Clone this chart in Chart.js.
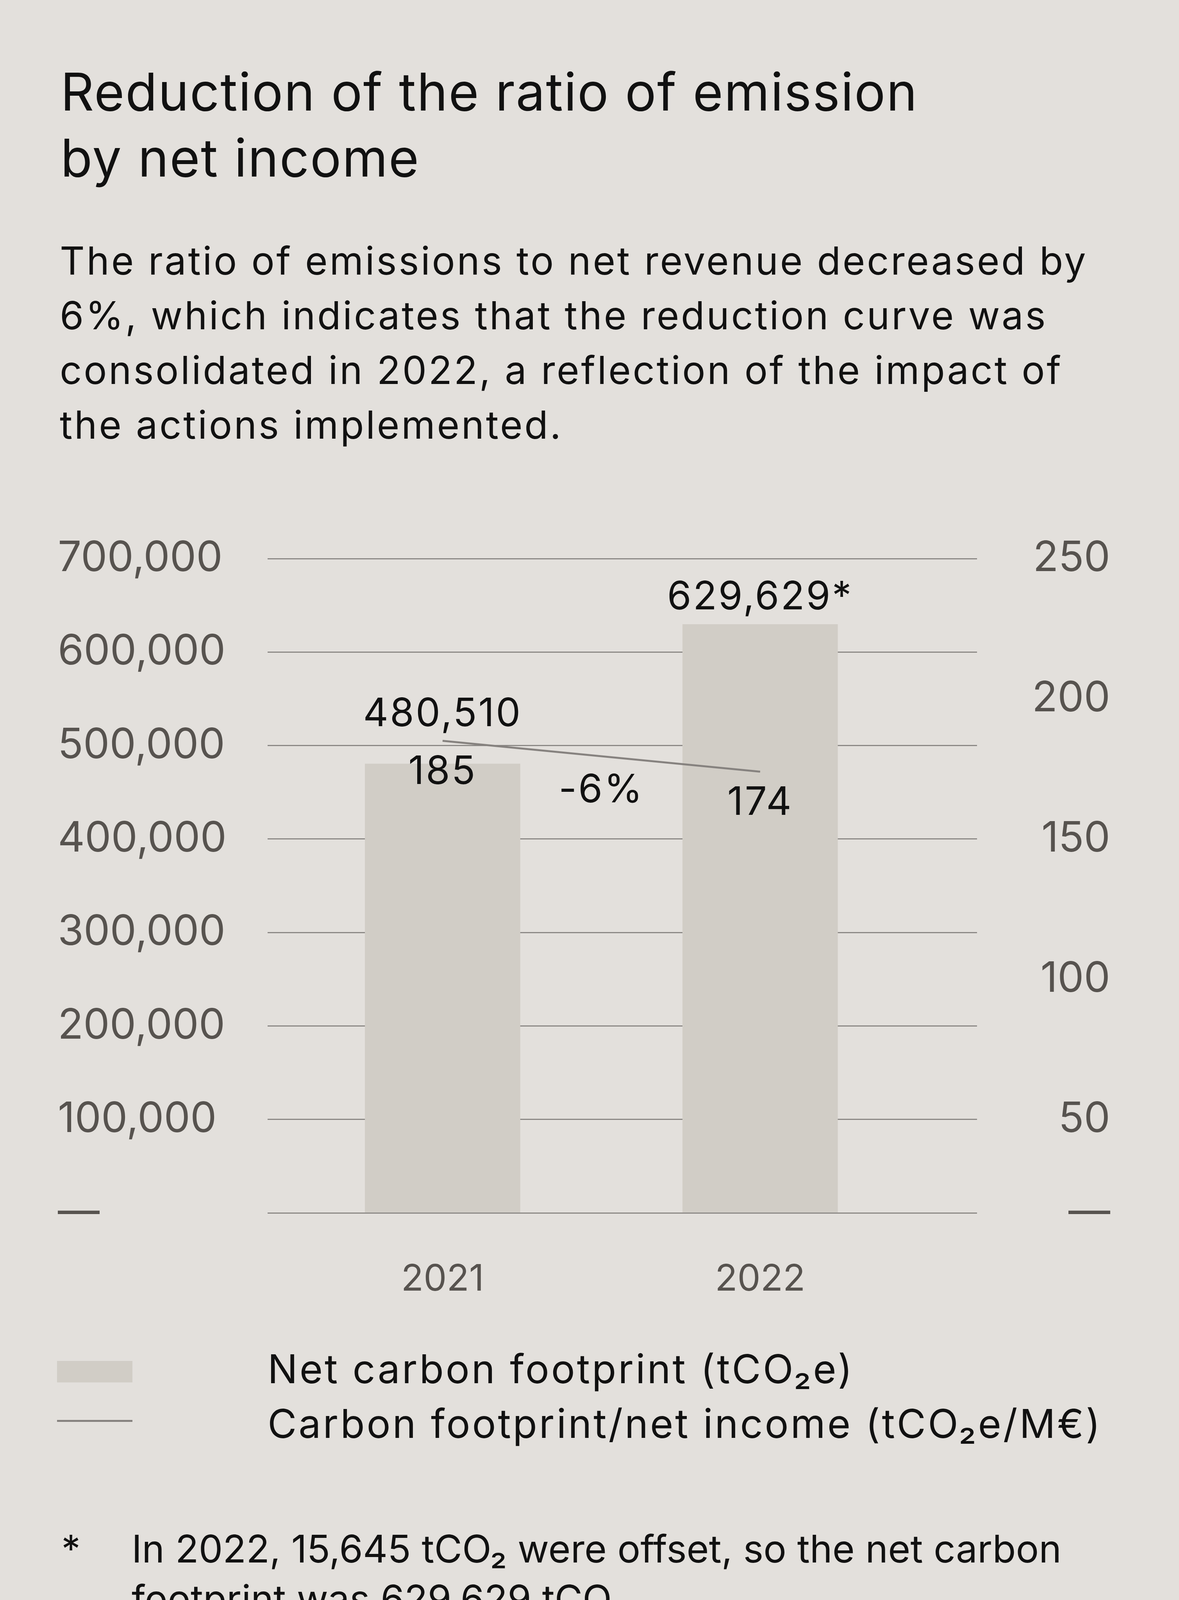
<!DOCTYPE html>
<html>
<head>
<meta charset="utf-8">
<script src="https://cdn.jsdelivr.net/npm/chart.js@4.4.1/dist/chart.umd.min.js"></script>
<style>
  html, body { margin: 0; padding: 0; background: #e3e0dc; }
  body { width: 3018px; height: 6285px; position: relative; overflow: hidden;
         font-family: Inter, "Noto Sans", sans-serif; color: #111; }
  .abs { position: absolute; }
  .title { left: 155px; top: 150px; font-size: 133px; line-height: 169px; letter-spacing: 2.4px; }
  .intro { left: 153px; top: 597px; font-size: 99px; line-height: 140px; letter-spacing: 4.6px; }
  .legend { left: 0; top: 3434px; width: 3018px; }
  .legend .row { position: relative; height: 140px; font-size: 102px; line-height: 140px; letter-spacing: 4.8px; }
  .legend .row span { position: absolute; left: 685px; top: 0; white-space: nowrap; }
  .legend .sw { position: absolute; left: 146px; width: 193px; }
  .note { top: 3901px; font-size: 98px; line-height: 128px; }
  .heading { left: 150px; top: 4554px; font-size: 133px; line-height: 169px; letter-spacing: 2.5px; }
  .heading b { font-weight: 600; }
</style>
</head>
<body>

<div class="abs title">Reduction of the ratio of emission<br>by net income</div>
<div class="abs intro">The ratio of emissions to net revenue decreased by<br>6%, which indicates that the reduction curve was<br>consolidated in 2022, a reflection of the impact of<br>the actions implemented.</div>

<div class="abs" style="left:0; top:1330px; width:3018px; height:2015px;">
  <canvas id="ratioChart"></canvas>
</div>

<div class="abs legend" id="ratioLegend"></div>

<div class="abs note" style="left:157px;">*</div>
<div class="abs note" style="left:337px;">In 2022, 15,645 tCO₂ were offset, so the net carbon<br>footprint was 629,629 tCO₂</div>

<div class="abs heading"><b>Puig</b> carbon footprint by scope</div>

<div class="abs" style="left:0; top:4850px; width:3018px; height:1311px;">
  <canvas id="scopeChart"></canvas>
</div>

<script>
// chart 1: net footprint (bars, left axis) and footprint per net income (line, right axis)
const years = [2021, 2022];
const netFootprint = [480510, 629629];
const footnoteMarks = ['', '*'];
const intensity = [185, 174];
const leftTicks = [0, 100000, 200000, 300000, 400000, 500000, 600000, 700000];
const rightTicks = [50, 100, 150, 200, 250];

// chart 2: footprint by scope
const scopes = ['Scope 1 + 2', 'Scope 3'];
const scopeFootprint = [7993, 637280];

const FONT = 'Inter, "Noto Sans", sans-serif';
const fmt = v => v.toLocaleString('en-US');

Chart.defaults.font.family = FONT;
Chart.defaults.animation = false;

const ratioLabels = {
  id: 'ratioLabels',
  afterDatasetsDraw(chart) {
    const ctx = chart.ctx;
    const bars = chart.getDatasetMeta(1).data;
    const pts = chart.getDatasetMeta(0).data;
    ctx.save();
    ctx.fillStyle = '#111';
    ctx.font = '100px ' + FONT;
    ctx.letterSpacing = '4px';
    ctx.textAlign = 'center';
    ctx.textBaseline = 'alphabetic';
    bars.forEach((bar, i) => {
      const top = Math.min(bar.y, pts[i].y);
      ctx.fillText(fmt(netFootprint[i]) + footnoteMarks[i], bar.x, top - 38);
    });
    pts.forEach((p, i) => ctx.fillText(String(intensity[i]), p.x, p.y + 110));
    const change = Math.round((intensity[1] - intensity[0]) / intensity[0] * 100);
    ctx.fillText(change + '%', (pts[0].x + pts[1].x) / 2, (pts[0].y + pts[1].y) / 2 + 118);
    ctx.restore();
  }
};

const ratioChart = new Chart(document.getElementById('ratioChart'), {
  data: {
    datasets: [
      {
        type: 'line',
        label: 'Carbon footprint/net income (tCO₂e/M€)',
        data: years.map((y, i) => ({ x: y, y: intensity[i] })),
        yAxisID: 'y1',
        borderColor: '#86827f',
        borderWidth: 5,
        pointRadius: 0,
        order: 0
      },
      {
        type: 'bar',
        label: 'Net carbon footprint (tCO₂e)',
        data: years.map((y, i) => ({ x: y, y: netFootprint[i] })),
        yAxisID: 'y',
        backgroundColor: '#d1cdc6',
        barThickness: 397,
        grouped: false,
        order: 1
      }
    ]
  },
  options: {
    responsive: true,
    maintainAspectRatio: false,
    layout: { padding: { left: 148, right: 176, top: 100, bottom: 0 } },
    plugins: { legend: { display: false }, tooltip: { enabled: false } },
    scales: {
      x: {
        type: 'linear',
        offset: false,
        min: 2020.449,
        max: 2022.683,
        grid: { display: false, offset: false },
        border: { display: false },
        afterBuildTicks: s => { s.ticks = years.map(v => ({ value: v })); },
        afterFit: s => { s.height = 240; },
        ticks: { callback: v => String(v), color: '#57534f', font: { size: 94 }, padding: 106 }
      },
      y: {
        position: 'left',
        min: 0,
        max: 700000,
        afterBuildTicks: s => { s.ticks = leftTicks.map(v => ({ value: v })); },
        afterFit: s => { s.width = 537; },
        grid: { color: '#8c8986', lineWidth: 3, drawTicks: false },
        border: { display: false },
        ticks: {
          crossAlign: 'far',
          color: '#57534f',
          font: { size: 107 },
          callback: v => v === 0 ? '—' : fmt(v)
        }
      },
      y1: {
        position: 'right',
        min: 50 / 3,   // bottom of the plot sits below the 50 tick
        max: 250,
        afterBuildTicks: s => { s.ticks = [s.min].concat(rightTicks).map(v => ({ value: v })); },
        afterFit: s => { s.width = 341; },
        grid: { display: false },
        border: { display: false },
        ticks: {
          crossAlign: 'far',
          color: '#57534f',
          font: { size: 107 },
          callback: function (v) { return v === this.min ? '—' : String(v); }
        }
      }
    }
  },
  plugins: [ratioLabels]
});

// html legend from the chart's datasets, bars first
const legendBox = document.getElementById('ratioLegend');
ratioChart.data.datasets.slice().sort((a, b) => b.order - a.order).forEach(ds => {
  const row = document.createElement('div');
  row.className = 'row';
  const sw = document.createElement('div');
  sw.className = 'sw';
  if (ds.type === 'line') {
    sw.style.top = '61px';
    sw.style.height = ds.borderWidth + 'px';
    sw.style.background = ds.borderColor;
  } else {
    sw.style.top = '50px';
    sw.style.height = '55px';
    sw.style.background = ds.backgroundColor;
  }
  const txt = document.createElement('span');
  txt.textContent = ds.label;
  row.appendChild(sw);
  row.appendChild(txt);
  legendBox.appendChild(row);
});

// bubble sizes: not area-true in the original, a gentle power curve
const maxR = 493;
const bubbleR = v => maxR * Math.pow(v / Math.max(...scopeFootprint), 0.215);

const scopeLabels = {
  id: 'scopeLabels',
  afterDatasetsDraw(chart) {
    const ctx = chart.ctx;
    ctx.save();
    ctx.fillStyle = '#111';
    ctx.font = '96px ' + FONT;
    ctx.textAlign = 'center';
    ctx.textBaseline = 'alphabetic';
    chart.getDatasetMeta(0).data.forEach((el, i) => {
      ctx.fillText(fmt(scopeFootprint[i]), el.x, el.y - 25);
      ctx.fillText('tCO₂e', el.x, el.y + 105);
    });
    ctx.restore();
  }
};

new Chart(document.getElementById('scopeChart'), {
  type: 'bubble',
  data: {
    datasets: [{
      label: 'Carbon footprint by scope',
      data: scopeFootprint.map((v, i) => ({ x: i, y: 0, r: bubbleR(v) })),
      backgroundColor: '#d1cdc6',
      borderWidth: 0,
      clip: false
    }]
  },
  options: {
    responsive: true,
    maintainAspectRatio: false,
    layout: { autoPadding: false, padding: { top: 25, left: 0, right: 0, bottom: 0 } },
    plugins: { legend: { display: false }, tooltip: { enabled: false } },
    scales: {
      x: {
        type: 'linear',
        position: 'top',
        min: -0.665,
        max: 2.0,
        grid: { display: false },
        border: { display: false },
        afterBuildTicks: s => { s.ticks = scopes.map((_, i) => ({ value: i })); },
        ticks: { callback: v => scopes[v], color: '#111', font: { size: 101 }, padding: 60 }
      },
      y: { display: false, min: -1, max: 1 }
    }
  },
  plugins: [scopeLabels]
});
</script>
</body>
</html>
